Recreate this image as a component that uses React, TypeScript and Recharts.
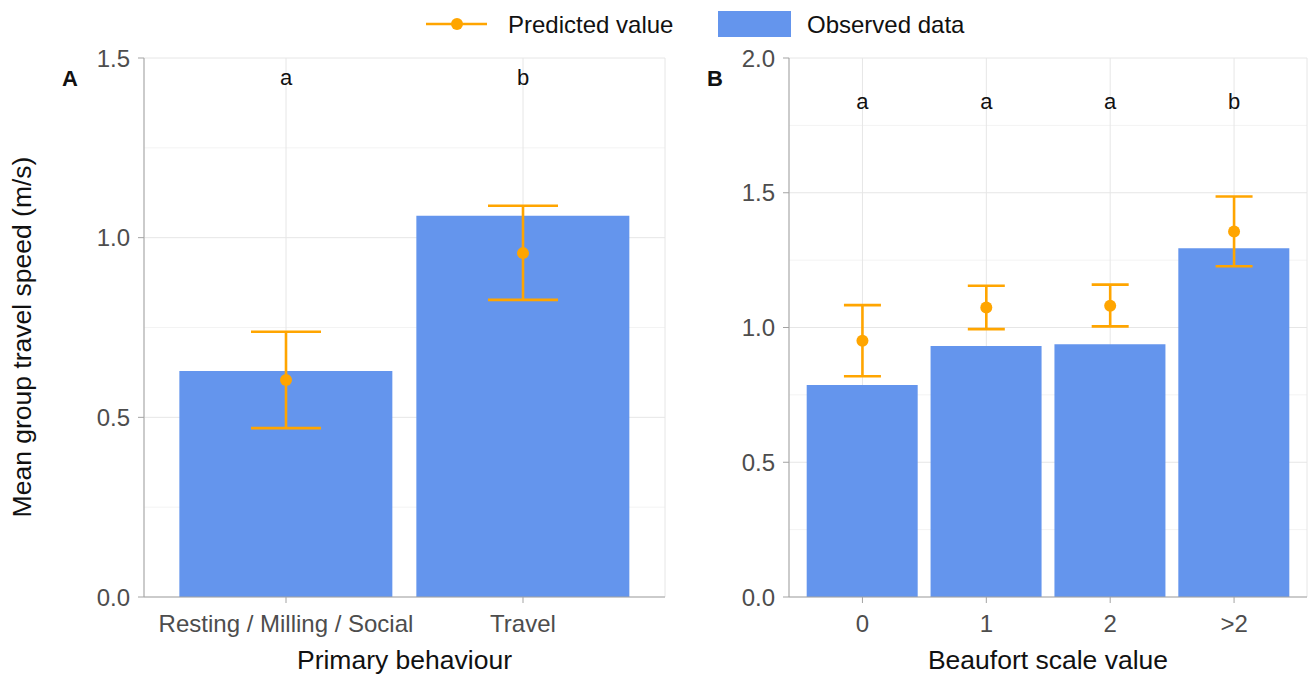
import { ComposedChart, Bar, Line, XAxis, YAxis, CartesianGrid, ErrorBar, LabelList } from 'recharts'

// Panel A: primary behaviour
const behaviourCats = ['Resting / Milling / Social', 'Travel']
const behaviourObserved = [0.629, 1.061]
const behaviourPredicted = [0.604, 0.957]
const behaviourLower = [0.47, 0.827]
const behaviourUpper = [0.738, 1.089]
const behaviourLetters = ['a', 'b']
const behaviourLetterY = 1.446
const behaviourTicks = [0, 0.5, 1, 1.5]
const behaviourMinor = [0.25, 0.75, 1.25]

// Panel B: Beaufort scale
const beaufortCats = ['0', '1', '2', '>2']
const beaufortObserved = [0.787, 0.931, 0.938, 1.294]
const beaufortPredicted = [0.951, 1.074, 1.081, 1.356]
const beaufortLower = [0.819, 0.994, 1.004, 1.227]
const beaufortUpper = [1.083, 1.155, 1.159, 1.486]
const beaufortLetters = ['a', 'a', 'a', 'b']
const beaufortLetterY = 1.84
const beaufortTicks = [0, 0.5, 1, 1.5, 2]
const beaufortMinor = [0.25, 0.75, 1.25, 1.75]

const BAR_COLOR = '#6495ED'
const PRED_COLOR = '#FFA500'
const AXIS_COLOR = '#A3A3A3'
const BORDER_COLOR = '#CFCFCF'
const GRID_MAJOR = '#E6E6E6'
const GRID_MINOR = '#F3F3F3'
const TICK_STYLE = { fontSize: 24, fill: '#4D4D4D' }
const FONT = '"Liberation Sans", Arial, sans-serif'

const buildRows = (
  cats: string[], obs: number[], pred: number[], lo: number[], hi: number[], letters: string[], letterY: number,
) => cats.map((cat, i) => ({
  cat,
  observed: obs[i],
  predicted: pred[i],
  err: [pred[i] - lo[i], hi[i] - pred[i]],
  letter: letters[i],
  letterY,
}))

const behaviourRows = buildRows(behaviourCats, behaviourObserved, behaviourPredicted, behaviourLower, behaviourUpper, behaviourLetters, behaviourLetterY)
const beaufortRows = buildRows(beaufortCats, beaufortObserved, beaufortPredicted, beaufortLower, beaufortUpper, beaufortLetters, beaufortLetterY)

interface PanelProps {
  rows: ReturnType<typeof buildRows>
  width: number
  yWidth: number
  rightMargin: number
  pad: { left: number; right: number }
  ticks: number[]
  minor: number[]
  capHalf: number
}

const Panel = ({ rows, width, yWidth, rightMargin, pad, ticks, minor, capHalf }: PanelProps) => {
  const max = ticks[ticks.length - 1]
  return (
    <ComposedChart
      width={width}
      height={675}
      data={rows}
      barCategoryGap="5%"
      margin={{ top: 58, right: rightMargin, bottom: 18, left: 0 }}
    >
      <CartesianGrid vertical={false} horizontalValues={minor} stroke={GRID_MINOR} />
      <CartesianGrid stroke={GRID_MAJOR} />
      <XAxis
        dataKey="cat"
        height={60}
        padding={pad}
        stroke={AXIS_COLOR}
        tickSize={6}
        tickMargin={12}
        tick={TICK_STYLE}
        interval={0}
      />
      <XAxis xAxisId="top" orientation="top" dataKey="cat" height={0} tick={false} tickLine={false} stroke={AXIS_COLOR} />
      <YAxis
        width={yWidth}
        domain={[0, max]}
        ticks={ticks}
        allowDataOverflow
        stroke={AXIS_COLOR}
        tickSize={6}
        tickMargin={8}
        tick={TICK_STYLE}
        tickFormatter={(v: number) => v.toFixed(1)}
      />
      <YAxis yAxisId="right" orientation="right" width={0} tick={false} tickLine={false} stroke={BORDER_COLOR} />
      <Bar dataKey="observed" fill={BAR_COLOR} isAnimationActive={false} />
      <Line
        dataKey="predicted"
        stroke="none"
        dot={{ r: 6, fill: PRED_COLOR, stroke: PRED_COLOR, strokeWidth: 0 }}
        activeDot={false}
        isAnimationActive={false}
      >
        <ErrorBar dataKey="err" width={capHalf} stroke={PRED_COLOR} strokeWidth={2.6} direction="y" />
      </Line>
      <Line dataKey="letterY" stroke="none" dot={false} activeDot={false} isAnimationActive={false}>
        <LabelList dataKey="letter" position="center" style={{ fontSize: 22, fill: '#111' }} />
      </Line>
    </ComposedChart>
  )
}

export default function App() {
  return (
    <div style={{ position: 'absolute', left: 0, top: 0, width: 1308, height: 675, background: '#fff', fontFamily: FONT }}>
      <div style={{ position: 'absolute', left: 0, top: 0 }}>
        <Panel rows={behaviourRows} width={680} yWidth={144} rightMargin={15} pad={{ left: 23.5, right: 23.5 }} ticks={behaviourTicks} minor={behaviourMinor} capHalf={35} />
      </div>
      <div style={{ position: 'absolute', left: 680, top: 0 }}>
        <Panel rows={beaufortRows} width={628} yWidth={109} rightMargin={1} pad={{ left: 11.5, right: 11 }} ticks={beaufortTicks} minor={beaufortMinor} capHalf={18.5} />
      </div>
      <svg width={1308} height={675} style={{ position: 'absolute', left: 0, top: 0, pointerEvents: 'none' }}>
        {/* legend */}
        <line x1={426} x2={487} y1={24} y2={24} stroke={PRED_COLOR} strokeWidth={2.6} />
        <circle cx={457} cy={24} r={6} fill={PRED_COLOR} />
        <text x={508} y={32.5} fontSize={24} fill="#111">Predicted value</text>
        <rect x={718} y={11} width={73} height={26} fill={BAR_COLOR} />
        <text x={807} y={32.5} fontSize={24} fill="#111">Observed data</text>
        {/* panel tags */}
        <text x={62} y={86} fontSize={22} fontWeight="bold" fill="#111">A</text>
        <text x={707} y={86} fontSize={22} fontWeight="bold" fill="#111">B</text>
        {/* axis titles */}
        <text x={404.5} y={669} fontSize={26.5} textAnchor="middle" fill="#111">Primary behaviour</text>
        <text x={1048} y={669} fontSize={26.5} textAnchor="middle" fill="#111">Beaufort scale value</text>
        <text transform="translate(31 337) rotate(-90)" fontSize={26.5} textAnchor="middle" fill="#111">Mean group travel speed (m/s)</text>
      </svg>
    </div>
  )
}
